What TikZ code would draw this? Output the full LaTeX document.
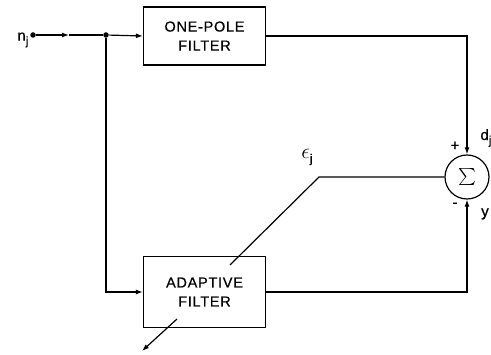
\documentclass[tikz,border=0pt]{standalone}
\usepackage{fontspec}
\setmainfont{Liberation Sans}[LetterSpace=5,FakeBold=0.5]
\usetikzlibrary{arrows.meta}
\newcommand{\sbj}{\raisebox{-0.55ex}{\fontsize{12}{12}\selectfont j}}
\begin{document}
\begin{tikzpicture}[x=1pt,y=-1pt, line width=1.2pt,
  >={Latex[length=7pt,width=5pt]},
  box/.style={draw, minimum width=122pt, minimum height=58pt, align=center,
    font=\fontsize{14.5}{19}\selectfont, inner sep=0pt},
  dot/.style={circle, fill, inner sep=0pt, minimum size=5.5pt},
  lbl/.style={font=\fontsize{15}{15}\selectfont, inner sep=0pt}]
\useasboundingbox (0,0) rectangle (491,355);
\node[box] (op) at (204.5,36) {ONE-POLE\\FILTER};
\node[box, minimum height=71pt] (af) at (204.5,292) {ADAPTIVE\\FILTER};
\node[circle, draw, minimum size=44pt, inner sep=0pt] (sum) at (467,177) {\scalebox{1.7}{$\sum$}};
\node[dot] (in) at (33,35) {};
\node[dot] (junc) at (106,35) {};
\coordinate (mid) at (69,35);
\node[lbl, anchor=east] (njl) at (29,40) {n\sbj};
\draw[->] (in) -- (mid);
\draw (mid) -- (junc);
\draw[->] (junc) -- (op.west);
\draw[->] (junc) |- (af.west);
\draw[->] (op.east) -| (sum.north);
\draw[->] (af.east) -| (sum.south);
\coordinate (ek) at (319,177);
\coordinate (ein) at (230,265);
\draw (sum.west) -- (ek) -- (ein);
\coordinate (aos) at (177,319);
\coordinate (aoe) at (142,351);
\draw[->] (aos) -- (aoe);
\node[lbl] (plus) at (455,146) {+};
\node[lbl] (minus) at (455,205) {-};
\node[lbl] (dl) at (486,138) {d\sbj};
\node[lbl] (yl) at (485,214) {y};
\node[lbl] (el) at (307,157) {\scalebox{1.5}{$\epsilon$}\sbj};
\end{tikzpicture}
\end{document}
